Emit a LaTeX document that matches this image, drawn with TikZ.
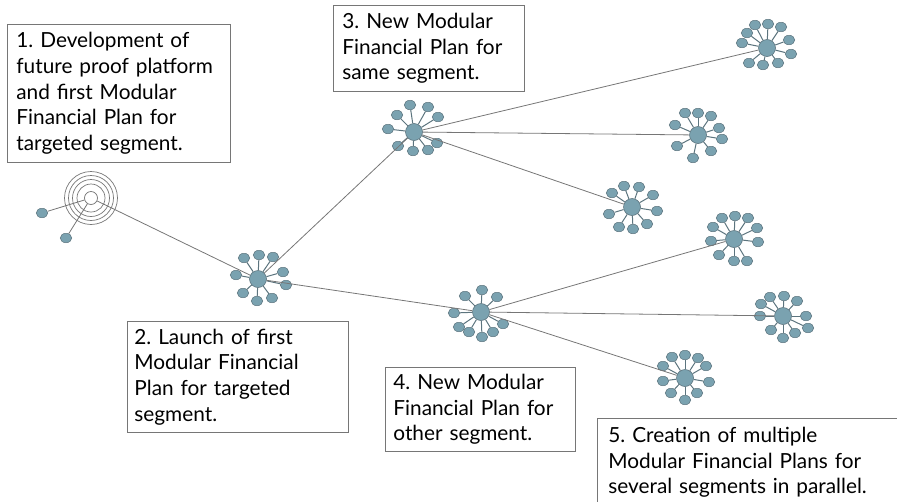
\documentclass[tikz,border=0pt]{standalone}
\usepackage{fontspec}
\setmainfont{Lato}
\usetikzlibrary{positioning}
\usetikzlibrary{shapes.geometric}
\definecolor{plan}{RGB}{122,162,176}
\definecolor{planedge}{RGB}{92,116,126}
\definecolor{linegray}{RGB}{118,118,118}
\frenchspacing

\newcommand{\planstar}[3]{%
  \node[hub] (#1) at (#2) {};
  \foreach \dx/\dy [count=\i] in {#3}
    \node[sat] (#1-\i) at ([shift={(\dx,\dy)}]#1) {} edge[spoke] (#1);
}

\begin{document}
\begin{tikzpicture}[x=1pt,y=-1pt,
    hub/.style = {circle, draw=planedge, fill=plan, line width=0.6pt, minimum size=17pt, inner sep=0pt},
    sat/.style = {ellipse, draw=planedge, fill=plan, line width=0.5pt, minimum width=11.5pt, minimum height=9.5pt, inner sep=0pt},
    spoke/.style = {draw=planedge, line width=1pt},
    link/.style = {draw=linegray, line width=0.8pt},
    ring/.style = {draw=linegray, line width=0.7pt},
    box/.style = {draw=linegray, fill=white, line width=0.8pt, anchor=north west, align=left,
                  inner xsep=9pt, inner ysep=0pt, font=\fontsize{20.8}{25.6}\selectfont}]
  \useasboundingbox (0,0) rectangle (897,501);

  \node[box, minimum width=223pt, minimum height=138pt, text width=205pt] (text1) at (7,24)
    {1. Development of\\future proof platform\\and first Modular\\Financial Plan for\\targeted segment.};
  \node[box, minimum width=221pt, minimum height=111pt, text width=207pt, inner xsep=7pt] (text2) at (127,321)
    {2. Launch of first\\Modular Financial\\Plan for targeted\\segment.};
  \node[box, minimum width=191pt, minimum height=86pt, text width=173pt] (text3) at (333,5)
    {3. New Modular\\Financial Plan for\\same segment.};
  \node[box, minimum width=190pt, minimum height=84pt, text width=174pt, inner xsep=8pt] (text4) at (385,367)
    {4. New Modular\\Financial Plan for\\other segment.};
  \node[box, minimum width=320pt, minimum height=88pt, text width=298pt, inner xsep=11pt] (text5) at (597,418)
    {5. Creation of multiple\\Modular Financial Plans for\\several segments in parallel.};

  \node[circle, draw=linegray, fill=white, line width=0.7pt, minimum size=13pt, inner sep=0pt] (target) at (91,198) {};
  \foreach \r in {14,18.5,22.5,26.5}
    \draw[ring] (target.center) circle (\r pt);
  \node[sat] (t1) at (42,213) {};
  \node[sat] (t2) at (66,238) {};
  \path (t1) edge[link] (target)
        (t2) edge[link] (target);

  \planstar{hubA}{258,279}{-14/-21, 1/-24, 15/-22, -22/-4, 25/-7, 28/6, -15/14, -1/22, 14/19}
  \planstar{hubB}{414,132}{-4/-27, 14/-25, -17/-17, 24/-15, -26/-3, -16/14, -1/19, 14/18, 23/11}
  \planstar{hubC}{481,312}{1/-22, -16/-16, 16/-15, -27/1, 22/12, -22/15, -12/20, 1/25, 12/20}
  \planstar{b1}{767,48}{-12/-23, 1/-24, 14/-21, -20/-15, 22/-8, -25/-5, 24/6, -18/15, -4/17, 11/15}
  \planstar{b2}{698,135}{-13/-22, 0/-22, 13/-19, -23/-10, 21/-7, 24/4, -21/11, 13/16, -5/23}
  \planstar{b3}{632,207}{-8/-21, 7/-20, -20/-14, 21/-12, 25/4, -23/7, 15/17, -13/20, 1/22}
  \planstar{c1}{734,239}{-12/-21, 1/-23, 14/-21, -21/-12, 23/-11, -23/2, 24/3, -15/16, 0/22, 13/22}
  \planstar{c2}{783,316}{-13/-19, 1/-20, -22/-12, 14/-15, 23/0, -23/0, 25/12, -12/14, 0/22, 12/17}
  \planstar{c3}{685,378}{-13/-21, 0/-23, 13/-20, -22/-12, 21/-12, -22/3, 24/4, -14/15, 0/22, 12/15}

  \path (target) edge[link] (hubA)
        (hubA) edge[link] (hubB)
        (hubA) edge[link] (hubC)
        (hubB) edge[link] (b1)
        (hubB) edge[link] (b2)
        (hubB) edge[link] (b3)
        (hubC) edge[link] (c1)
        (hubC) edge[link] (c2)
        (hubC) edge[link] (c3);
\end{tikzpicture}
\end{document}
